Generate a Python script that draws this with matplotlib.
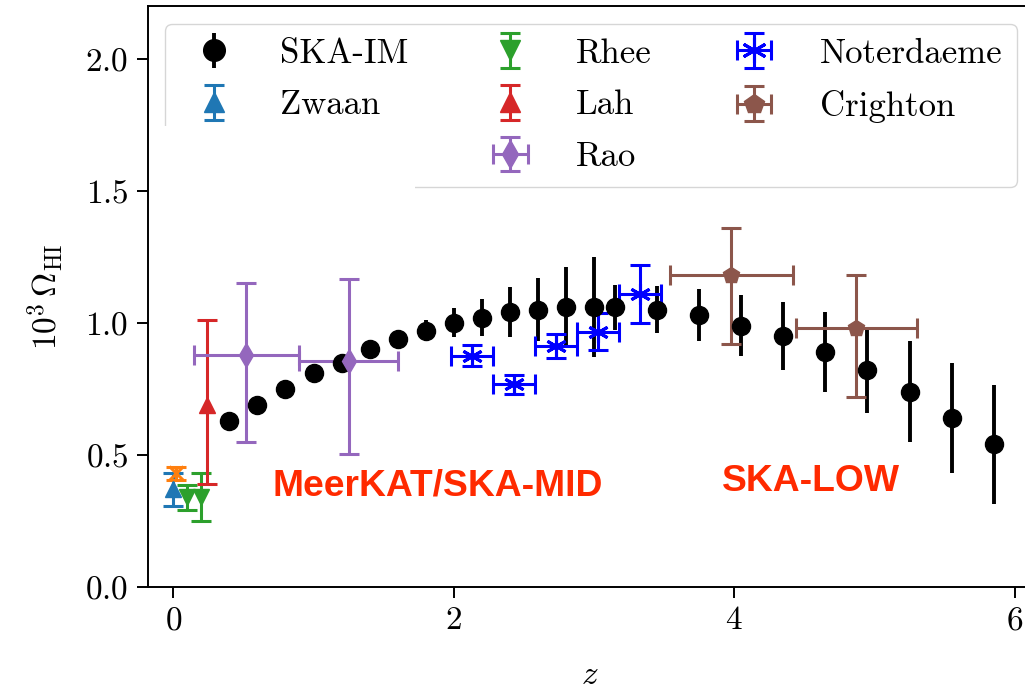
import matplotlib
matplotlib.use('Agg')
import matplotlib.pyplot as plt
from matplotlib.lines import Line2D
from matplotlib.patches import Rectangle

plt.rcParams['font.family'] = 'serif'
plt.rcParams['font.serif'] = ['cmr10']
plt.rcParams['mathtext.fontset'] = 'cm'
plt.rcParams['axes.formatter.use_mathtext'] = True

# SKA intensity mapping forecast
ska_z = [0.4, 0.6, 0.8, 1.0, 1.2, 1.4, 1.6, 1.8, 2.0, 2.2, 2.4, 2.6, 2.8, 3.0, 3.15,
         3.45, 3.75, 4.05, 4.35, 4.65, 4.95, 5.25, 5.55, 5.85]
ska_om = [0.63, 0.69, 0.75, 0.81, 0.85, 0.90, 0.94, 0.97, 1.00, 1.02, 1.04, 1.05, 1.06, 1.06, 1.06,
          1.05, 1.03, 0.99, 0.95, 0.89, 0.82, 0.74, 0.64, 0.54]
ska_err = [0.01, 0.01, 0.01, 0.015, 0.02, 0.02, 0.03, 0.04, 0.055, 0.07, 0.095, 0.12, 0.15, 0.19, 0.085,
           0.09, 0.10, 0.115, 0.13, 0.15, 0.16, 0.19, 0.21, 0.225]

# measurements
zwaan_z, zwaan_om, zwaan_err = [0.0], [0.37], [0.063]
braun_z, braun_om, braun_err = [0.02], [0.43], [0.025]
rhee_z, rhee_om, rhee_err = [0.10, 0.20], [0.34, 0.34], [0.047, 0.09]
lah_z, lah_om, lah_lo, lah_hi = [0.24], [0.69], [0.30], [0.32]
rao_z, rao_om = [0.52, 1.25], [0.88, 0.855]
rao_zerr = [0.375, 0.35]
rao_lo, rao_hi = [0.33, 0.35], [0.27, 0.31]
noter_z = [2.13, 2.43, 2.73, 3.03, 3.33]
noter_om = [0.876, 0.767, 0.914, 0.967, 1.11]
noter_zerr = [0.15, 0.15, 0.15, 0.15, 0.15]
noter_err = [0.04, 0.035, 0.045, 0.07, 0.11]
cri_z, cri_om = [3.98, 4.87], [1.18, 0.98]
cri_zerr = [0.44, 0.43]
cri_lo, cri_hi = [0.26, 0.26], [0.18, 0.20]

fig = plt.figure(figsize=(10.25, 6.88), dpi=100)
ax = fig.add_axes([0.1444, 0.1468, 0.862, 0.8445])

cap = dict(capsize=7, elinewidth=2.2, capthick=2.2)
ax.errorbar(ska_z, ska_om, yerr=ska_err, fmt='o', color='k', ms=13, elinewidth=2.8,
            capsize=0, label='SKA-IM')
ax.errorbar(zwaan_z, zwaan_om, yerr=zwaan_err, fmt='^', color='#1f77b4', ms=12,
            label='Zwaan', **cap)
ax.errorbar(braun_z, braun_om, yerr=braun_err, fmt='x', color='#ff7f0e', ms=10, mew=2.2, **cap)
ax.errorbar(rhee_z, rhee_om, yerr=rhee_err, fmt='v', color='#2ca02c', ms=12,
            label='Rhee', **cap)
ax.errorbar(lah_z, lah_om, yerr=[lah_lo, lah_hi], fmt='^', color='#d62728', ms=12,
            label='Lah', **cap)
ax.errorbar(rao_z, rao_om, xerr=rao_zerr, yerr=[rao_lo, rao_hi], fmt='d', color='#9467bd',
            ms=12, label='Rao', **cap)
ax.errorbar(noter_z, noter_om, xerr=noter_zerr, yerr=noter_err, linestyle='none',
            marker=(6, 2, 0), color='b', ms=15, mew=2.2, label='Noterdaeme', **cap)
ax.errorbar(cri_z, cri_om, xerr=cri_zerr, yerr=[cri_lo, cri_hi], fmt='p', color='#8c564b',
            ms=12, label='Crighton', **cap)

ax.text(0.71, 0.345, 'MeerKAT/SKA-MID', color='#ff2a00', fontsize=26.8, fontweight='bold',
        family='Liberation Sans', ha='left', va='baseline')
ax.text(3.91, 0.364, 'SKA-LOW', color='#ff2a00', fontsize=26.8, fontweight='bold',
        family='Liberation Sans', ha='left', va='baseline')

ax.set_xlim(-0.18, 6.12)
ax.set_ylim(0, 2.2)
ax.set_xticks([0, 2, 4, 6])
ax.set_yticks([0.0, 0.5, 1.0, 1.5, 2.0])
ax.tick_params(labelsize=24, length=8, width=1.4, pad=6)
for s in ax.spines.values():
    s.set_linewidth(1.4)
ax.set_xlabel(r'$z$', fontsize=24, labelpad=18)
ax.set_ylabel(r'$10^3\,\Omega_{\rm HI}$', fontsize=24, labelpad=14)

handles, labels = ax.get_legend_handles_labels()
blank = Line2D([], [], linestyle='none')
handles.insert(2, blank)
labels.insert(2, ' ')
ax.legend(handles, labels, ncol=3, fontsize=25, loc='upper left', mode='expand',
          bbox_to_anchor=(0.0193, 0.969, 0.9637, 0.0), borderaxespad=0,
          handlelength=2.0, handletextpad=0.9, labelspacing=0.58, markerscale=1.2)

# blank out the empty legend slot
ax.add_patch(Rectangle((-0.075, 1.35), 1.8, 0.395, facecolor='white', edgecolor='none',
                       zorder=10, clip_on=False))

fig.savefig('out.png', dpi=100)
